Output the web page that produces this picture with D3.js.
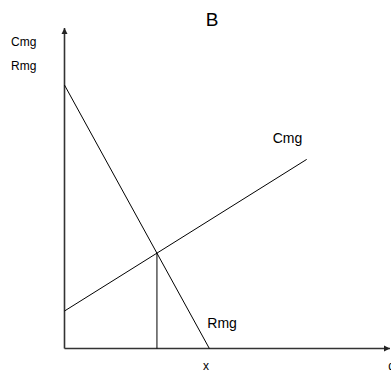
<html>
<head>
  <style>
    body { margin: 0; background: white; font-family: "Liberation Sans", Arial, Helvetica, sans-serif; }
    svg { display: block; }
  </style>
  <script src="https://cdn.jsdelivr.net/npm/d3@7"></script>
</head>
<body>
  <svg id="chart"></svg>
  <script>
    // data (arbitrary units, axis 0..10)
    let title = "B"
    let yAxisLabels = ["Cmg", "Rmg"]
    let xTickLabels = ["x", "q"]
    let xTickValues = [4.35, 10.05]
    // Rmg: demand side marginal revenue, from (0, 8.22) down to (4.45, 0)
    let rmgX = [0, 4.45]
    let rmgY = [8.22, 0]
    // Cmg: marginal cost, rising line
    let cmgX = [0, 7.44]
    let cmgY = [1.17, 5.90]
    // equilibrium point where both lines cross
    let eqX = 2.84
    let eqY = 2.98

    let width = 391, height = 374
    let margin = { top: 28, bottom: 25.5, left: 64.5, right: 1 }

    let svg = d3.select("#chart").attr("width", width).attr("height", height)

    let xScale = d3.scaleLinear().domain([0, 10]).range([margin.left, width - margin.right])
    let yScale = d3.scaleLinear().domain([0, 10]).range([height - margin.bottom, margin.top])

    let line = d3.line().x(d => xScale(d[0])).y(d => yScale(d[1]))

    // arrow head
    svg.append("defs").append("marker")
      .attr("id", "arrow")
      .attr("viewBox", "0 0 10 10")
      .attr("refX", 10).attr("refY", 5)
      .attr("markerWidth", 4).attr("markerHeight", 5)
      .attr("markerUnits", "strokeWidth")
      .attr("orient", "auto")
      .append("path").attr("d", "M0,0L10,5L0,10z").attr("fill", "#222")

    // axes
    svg.append("line")
      .attr("x1", xScale(0)).attr("y1", yScale(0))
      .attr("x2", xScale(0)).attr("y2", yScale(10))
      .attr("stroke", "#333").attr("stroke-width", 1.6)
      .attr("marker-end", "url(#arrow)")
    svg.append("line")
      .attr("x1", xScale(0)).attr("y1", yScale(0))
      .attr("x2", xScale(10)).attr("y2", yScale(0))
      .attr("stroke", "#333").attr("stroke-width", 1.6)
      .attr("marker-end", "url(#arrow)")

    // curves
    svg.append("path")
      .attr("d", line(d3.zip(rmgX, rmgY)))
      .attr("fill", "none").attr("stroke", "black").attr("stroke-width", 1)
    svg.append("path")
      .attr("d", line(d3.zip(cmgX, cmgY)))
      .attr("fill", "none").attr("stroke", "black").attr("stroke-width", 1)

    // vertical drop from equilibrium
    svg.append("path")
      .attr("d", line([[eqX, eqY], [eqX, 0]]))
      .attr("fill", "none").attr("stroke", "black").attr("stroke-width", 1)

    // texts
    svg.append("text")
      .attr("x", 212).attr("y", 26)
      .attr("text-anchor", "middle")
      .attr("font-size", 19)
      .text(title)

    svg.selectAll(".ylab")
      .data(yAxisLabels)
      .enter().append("text")
      .attr("class", "ylab")
      .attr("x", 11)
      .attr("y", (d, i) => 46 + i * 24)
      .attr("font-size", 12)
      .text(d => d)

    svg.selectAll(".xlab")
      .data(xTickLabels)
      .enter().append("text")
      .attr("class", "xlab")
      .attr("x", (d, i) => xScale(xTickValues[i]))
      .attr("y", 370)
      .attr("text-anchor", "middle")
      .attr("font-size", 12)
      .text(d => d)

    // line labels
    svg.append("text")
      .attr("x", xScale(cmgX[1]) - 34).attr("y", yScale(cmgY[1]) - 16)
      .attr("font-size", 14)
      .text("Cmg")
    svg.append("text")
      .attr("x", xScale(rmgX[1]) - 2).attr("y", yScale(rmgY[1]) - 21)
      .attr("font-size", 14)
      .text("Rmg")
  </script>
</body>
</html>
